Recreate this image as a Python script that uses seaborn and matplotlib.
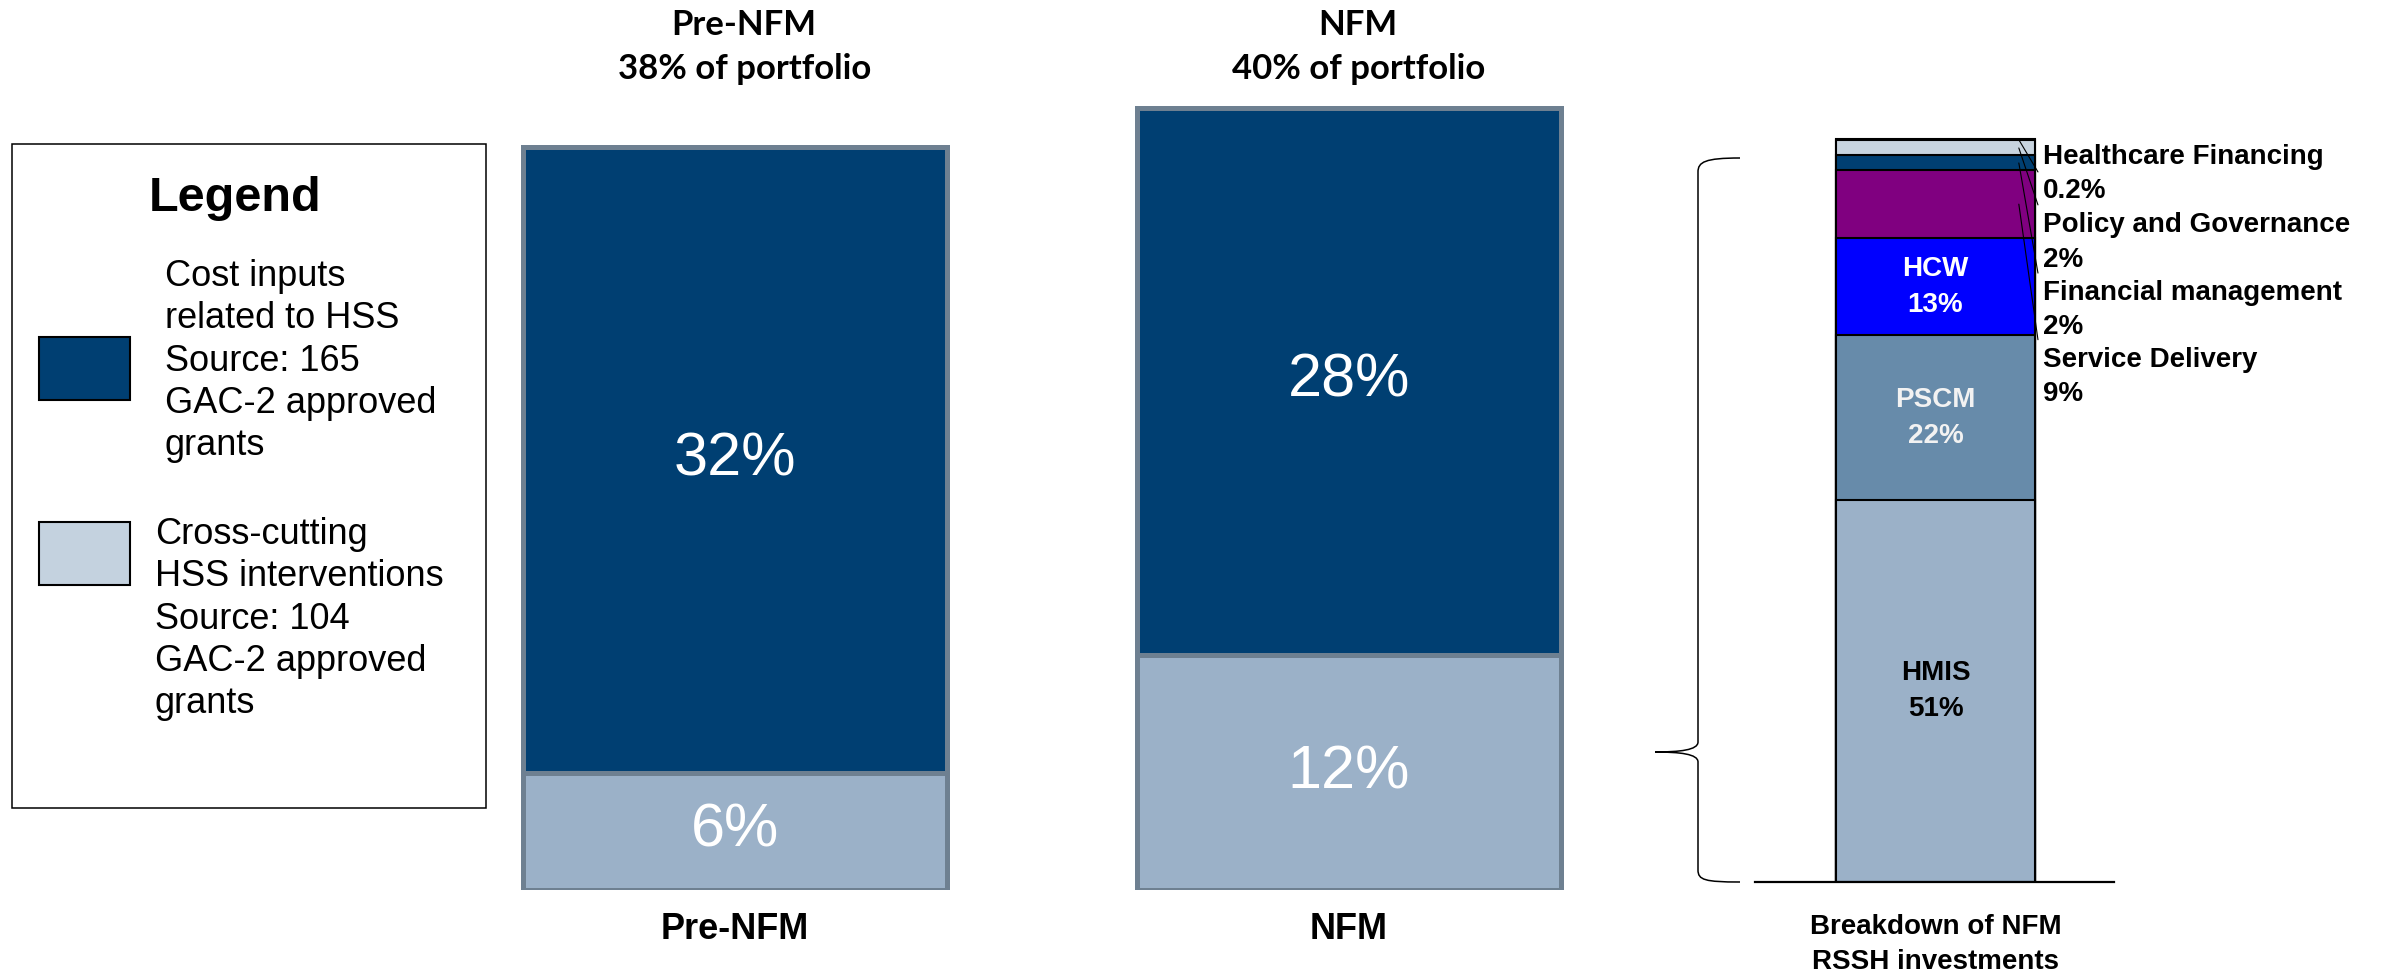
import numpy as np
import pandas as pd
import seaborn as sns
import matplotlib
matplotlib.use("Agg")
import matplotlib.pyplot as plt
from matplotlib.patches import Rectangle, PathPatch
from matplotlib.path import Path
from matplotlib.transforms import blended_transform_factory

# ---- data -------------------------------------------------------------
periods = ["Pre-NFM", "NFM"]
cost_inputs = [32, 28]          # % of portfolio, cost inputs related to HSS
cross_cutting = [6, 12]         # % of portfolio, cross-cutting HSS interventions
portfolio_share = [38, 40]      # total RSSH share of portfolio

modules = ["HMIS", "PSCM", "HCW", "Service Delivery", "Financial management",
           "Policy and Governance", "Healthcare Financing"]
module_share = [51, 22, 13, 9, 2, 2, 0.2]
module_share_text = ["51%", "22%", "13%", "9%", "2%", "2%", "0.2%"]

legend_labels = [
    "Cost inputs\nrelated to HSS\nSource: 165\nGAC-2 approved\ngrants",
    "Cross-cutting\nHSS interventions\nSource: 104\nGAC-2 approved\ngrants",
]
breakdown_label = "Breakdown of NFM\nRSSH investments"

# ---- style ------------------------------------------------------------
DARK = "#003F72"
LIGHT = "#9BB1C8"
PALE = "#C4D2DF"
EDGE = "#6E8091"
module_colors = [LIGHT, "#678BAA", "#0000FF", "#800080", DARK, "#C8D4DF", "#000000"]

sns.set_style("white")
plt.rcParams["font.family"] = ["Liberation Sans", "DejaVu Sans"]
plt.rcParams["text.color"] = "black"
plt.rcParams["xtick.color"] = "black"
plt.rcParams["xtick.labelcolor"] = "black"

W, H = 2381, 980
fig = plt.figure(figsize=(W / 100, H / 100), dpi=100)

# overlay in pixel units (y downward) for the legend panel and the brace
ov = fig.add_axes([0, 0, 1, 1], zorder=0)
ov.set_xlim(0, W)
ov.set_ylim(H, 0)
ov.axis("off")


def px_axes(x0, y_top, x1, y_bottom):
    return fig.add_axes([x0 / W, (H - y_bottom) / H, (x1 - x0) / W, (y_bottom - y_top) / H], zorder=1)


# ---- main stacked bars ------------------------------------------------
ax1 = px_axes(500, 68.5, 1600, 890)
df = pd.DataFrame({"period": periods, "cost": cost_inputs,
                   "cross": cross_cutting, "total": portfolio_share})
sns.barplot(data=df, x="period", y="total", color=DARK, saturation=1, width=0.69,
            edgecolor=EDGE, linewidth=3.6, errorbar=None, ax=ax1)
sns.barplot(data=df, x="period", y="cross", color=LIGHT, saturation=1, width=0.69,
            edgecolor=EDGE, linewidth=3.6, errorbar=None, ax=ax1)
ax1.set_xlim(-0.3827, 1.4088)
ax1.set_ylim(0, 42)
ax1.set_xlabel("")
ax1.set_ylabel("")
ax1.set_yticks([])
ax1.patch.set_alpha(0)
for s in ax1.spines.values():
    s.set_visible(False)
ax1.tick_params(axis="x", length=0, pad=16, labelsize=26, labelcolor="black")
for t in ax1.get_xticklabels():
    t.set_fontweight("bold")

for i in range(len(periods)):
    ax1.text(i, cross_cutting[i] + cost_inputs[i] / 2, f"{cost_inputs[i]}%", color="white",
             fontsize=44, ha="center", va="center")
    ax1.text(i, cross_cutting[i] / 2, f"{cross_cutting[i]}%", color="white",
             fontsize=44, ha="center", va="center")

top_tr = blended_transform_factory(ax1.transData, fig.transFigure)
for i, p in enumerate(periods):
    ax1.text(i + 0.015, (H - 47) / H, f"{p}\n{portfolio_share[i]}% of portfolio",
             transform=top_tr, ha="center", va="center", fontsize=25, color="black",
             fontweight="bold", family=["Lato", "DejaVu Sans"], linespacing=1.45)

# ---- breakdown bar ----------------------------------------------------
ax2 = px_axes(1755, 882 - 749, 2114, 882)
cum = np.cumsum(module_share)
for i in reversed(range(len(modules))):
    sns.barplot(x=[breakdown_label], y=[cum[i]], color=module_colors[i], saturation=1,
                width=0.8, edgecolor="black", linewidth=1.5, errorbar=None, ax=ax2)
ax2.set_xlim(-0.7256, 0.7176)
ax2.set_ylim(0, 100)
ax2.set_yticks([])
ax2.set_xlabel("")
ax2.set_ylabel("")
ax2.patch.set_alpha(0)
for side in ["left", "right", "top"]:
    ax2.spines[side].set_visible(False)
ax2.spines["bottom"].set_color("black")
ax2.spines["bottom"].set_linewidth(1.6)
ax2.tick_params(axis="x", length=0, pad=23, labelsize=20, labelcolor="black")
for t in ax2.get_xticklabels():
    t.set_fontweight("bold")
    t.set_linespacing(1.44)

inner_colors = ["black", "#F2F2F2", "white"]
for i in range(3):
    ax2.text(0, cum[i] - module_share[i] / 2, f"{modules[i]}\n{module_share_text[i]}",
             ha="center", va="center", fontsize=20, fontweight="bold",
             color=inner_colors[i], linespacing=1.5)

# callout labels for the thin segments, listed top to bottom
callout_idx = [6, 5, 4, 3]
callout_y = [94.5, 85.4, 76.4, 67.4]
leader_y = [94.8, 90.4, 81.3, 72.4]
for k, i in enumerate(callout_idx):
    ax2.text(0.432, callout_y[k], f"{modules[i]}\n{module_share_text[i]}", color="black",
             ha="left", va="center", fontsize=20, fontweight="bold", linespacing=1.42)
    ax2.plot([0.412, 0.335], [leader_y[k], cum[i] - module_share[i] / 2],
             color="black", lw=0.8, clip_on=False)

# ---- legend panel -----------------------------------------------------
ov.add_patch(Rectangle((12, 144), 474, 664, fill=False, edgecolor="black", lw=1.1))
ov.text(235, 198, "Legend", ha="center", va="center", fontsize=35, fontweight="bold", color="black")
ov.add_patch(Rectangle((39, 337), 91, 63, facecolor=DARK, edgecolor="black", lw=1.5))
ov.add_patch(Rectangle((39, 522), 91, 63, facecolor=PALE, edgecolor="black", lw=1.5))
ov.text(165, 361, legend_labels[0], ha="left", va="center", fontsize=26, linespacing=1.27,
        color="black")
ov.text(155, 619, legend_labels[1], ha="left", va="center", fontsize=26, linespacing=1.27,
        color="black")

# ---- curly brace ------------------------------------------------------
verts = [(1740, 158), (1705, 158), (1698, 162), (1698, 172),
         (1698, 742),
         (1698, 750), (1680, 752), (1655, 752),
         (1680, 752), (1698, 754), (1698, 762),
         (1698, 870),
         (1698, 880), (1705, 882), (1740, 882)]
codes = [Path.MOVETO, Path.CURVE4, Path.CURVE4, Path.CURVE4,
         Path.LINETO,
         Path.CURVE4, Path.CURVE4, Path.CURVE4,
         Path.CURVE4, Path.CURVE4, Path.CURVE4,
         Path.LINETO,
         Path.CURVE4, Path.CURVE4, Path.CURVE4]
ov.add_patch(PathPatch(Path(verts, codes), fill=False, edgecolor="black", lw=1.1))

fig.savefig("out.png", dpi=100)
